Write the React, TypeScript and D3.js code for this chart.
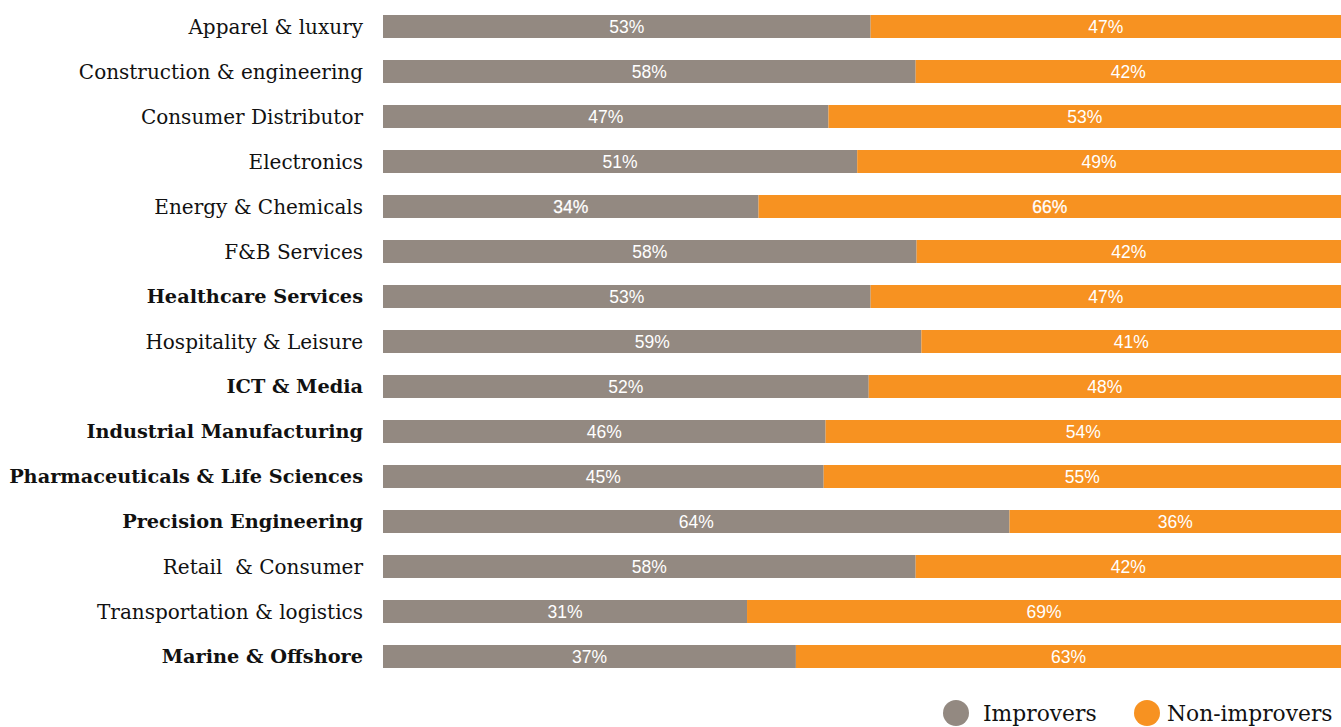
import React from "react";
import * as d3 from "d3";

const categories = [
  "Apparel & luxury",
  "Construction & engineering",
  "Consumer Distributor",
  "Electronics",
  "Energy & Chemicals",
  "F&B Services",
  "Healthcare Services",
  "Hospitality & Leisure",
  "ICT & Media",
  "Industrial Manufacturing",
  "Pharmaceuticals & Life Sciences",
  "Precision Engineering",
  "Retail  & Consumer",
  "Transportation & logistics",
  "Marine & Offshore",
];

const boldCategories = [
  "Healthcare Services",
  "ICT & Media",
  "Industrial Manufacturing",
  "Pharmaceuticals & Life Sciences",
  "Precision Engineering",
  "Marine & Offshore",
];

// Labelled percentages
const improverLabels = [53, 58, 47, 51, 34, 58, 53, 59, 52, 46, 45, 64, 58, 31, 37];
const nonImproverLabels = [47, 42, 53, 49, 66, 42, 47, 41, 48, 54, 55, 36, 42, 69, 63];

// Improver share as drawn in the picture (bar split position, % of bar length)
const improverDrawn = [50.9, 55.6, 46.5, 49.5, 39.2, 55.7, 50.9, 56.2, 50.7, 46.2, 46.0, 65.4, 55.6, 38.0, 43.1];

const seriesNames = ["Improvers", "Non-improvers"];
const seriesColors = ["#938981", "#F79221"];

export default function App() {
  const width = 1341;
  const height = 727;
  const x = d3.scaleLinear().domain([0, 100]).range([383, 1341]);
  const y = d3.scalePoint<string>().domain(categories).range([26.5, 656.5]);
  const barH = 23;
  const labelFont = "'DejaVu Serif', serif";
  const valueFont = "'Liberation Sans', Arial, sans-serif";

  return (
    <svg
      width={width}
      height={height}
      style={{ position: "absolute", left: 0, top: 0, background: "#fff" }}
    >
      {categories.map((c, i) => {
        const cy = y(c) as number;
        const x0 = x(0);
        const xs = x(improverDrawn[i]);
        const x1 = x(100);
        const heavy = c === "Energy & Chemicals";
        const bold = boldCategories.includes(c);
        return (
          <g key={c}>
            <text
              x={363}
              y={cy}
              dy="0.35em"
              textAnchor="end"
              fontFamily={labelFont}
              fontSize={bold ? 19.3 : 20}
              fontWeight={bold ? "bold" : "normal"}
              fill="#111"
              style={{ whiteSpace: "pre" }}
            >
              {c}
            </text>
            <rect x={x0} y={cy - barH / 2} width={xs - x0} height={barH} fill={seriesColors[0]} />
            <rect x={xs} y={cy - barH / 2} width={x1 - xs} height={barH} fill={seriesColors[1]} />
            <text
              x={(x0 + xs) / 2}
              y={cy}
              dy="0.36em"
              textAnchor="middle"
              fontFamily={valueFont}
              fontSize={17.5}
              fill="#fff"
              stroke={heavy ? "#fff" : "none"}
              strokeWidth={heavy ? 0.25 : 0}
            >
              {improverLabels[i]}%
            </text>
            <text
              x={(xs + x1) / 2}
              y={cy}
              dy="0.36em"
              textAnchor="middle"
              fontFamily={valueFont}
              fontSize={17.5}
              fill="#fff"
              stroke={heavy ? "#fff" : "none"}
              strokeWidth={heavy ? 0.25 : 0}
            >
              {nonImproverLabels[i]}%
            </text>
          </g>
        );
      })}
      <g>
        <circle cx={956} cy={713} r={13} fill={seriesColors[0]} />
        <text x={983} y={713} dy="0.35em" fontFamily={labelFont} fontSize={21.8} fill="#111">
          {seriesNames[0]}
        </text>
        <circle cx={1147} cy={713} r={13} fill={seriesColors[1]} />
        <text x={1167} y={713} dy="0.35em" fontFamily={labelFont} fontSize={21.8} fill="#111">
          {seriesNames[1]}
        </text>
      </g>
    </svg>
  );
}
